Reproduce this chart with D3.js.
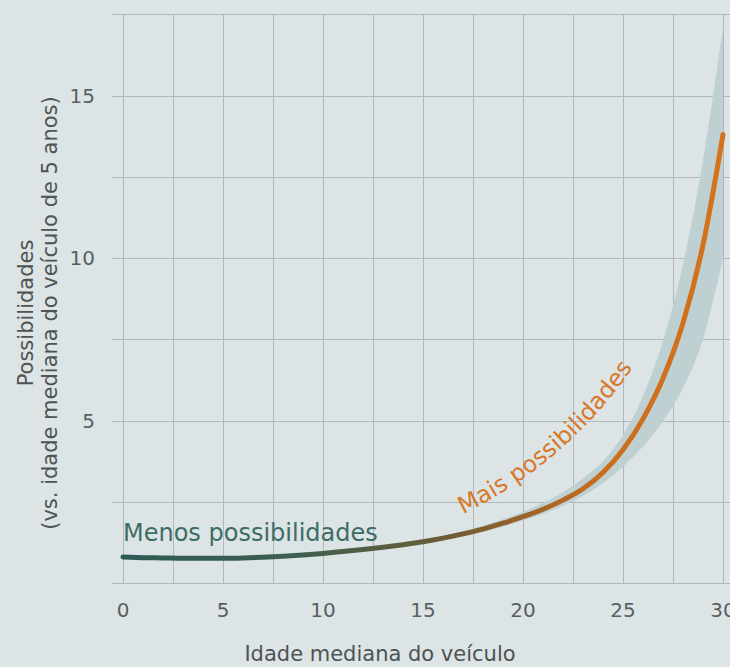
<!DOCTYPE html>
<html>
<head>
<meta charset="utf-8">
<script src="https://cdn.jsdelivr.net/npm/d3@7"></script>
<style>
  html, body { margin: 0; padding: 0; background: #dce4e5; }
  svg { display: block; font-family: "DejaVu Sans", sans-serif; }
</style>
</head>
<body>
<div id="chart"></div>
<script>
// ---- Data
const ages = [0, 1, 2, 3, 4, 5, 6, 7, 8, 9, 10, 11, 12, 13, 14, 15, 16, 17, 18, 19, 20,
              21, 22, 23, 24, 25, 26, 27, 28, 29, 30];
const odds = [0.80, 0.78, 0.77, 0.76, 0.76, 0.76, 0.77, 0.79, 0.82, 0.86, 0.91,
              0.97, 1.03, 1.10, 1.18, 1.27, 1.38, 1.51, 1.66, 1.84, 2.04,
              2.27, 2.55, 2.90, 3.40, 4.10, 5.05, 6.30, 8.00, 10.40, 13.80];
const oddsLow = [0.77, 0.76, 0.75, 0.74, 0.74, 0.74, 0.75, 0.77, 0.80, 0.84, 0.89,
                 0.94, 1.00, 1.07, 1.14, 1.22, 1.32, 1.44, 1.58, 1.74, 1.92,
                 2.13, 2.38, 2.68, 3.08, 3.58, 4.20, 4.98, 6.00, 7.50, 10.00];
const oddsHigh = [0.83, 0.81, 0.80, 0.79, 0.78, 0.78, 0.79, 0.81, 0.84, 0.88, 0.93,
                  1.00, 1.06, 1.14, 1.22, 1.32, 1.44, 1.59, 1.76, 1.96, 2.19,
                  2.46, 2.79, 3.22, 3.75, 4.55, 5.75, 7.45, 9.80, 13.00, 17.10];

const xTicks = [0, 5, 10, 15, 20, 25, 30];
const yTicks = [5, 10, 15];
const gridX = d3.range(0, 30.01, 2.5);
const gridY = d3.range(0, 17.51, 2.5);

const xTitle = 'Idade mediana do veículo';
const yTitle = ['Possibilidades', '(vs. idade mediana do veículo de 5 anos)'];
const lowLabel = 'Menos possibilidades';
const highLabel = 'Mais possibilidades';

// ---- Layout
const W = 730, H = 667;
const x = d3.scaleLinear().domain([0, 30]).range([123, 723]);
const y = d3.scaleLinear().domain([0, 17.5]).range([583, 14.25]);

const rows = ages.map((a, i) => ({ a, v: odds[i], lo: oddsLow[i], hi: oddsHigh[i] }));

const svg = d3.select('#chart').append('svg')
    .attr('width', W).attr('height', H);

svg.append('rect').attr('width', W).attr('height', H).attr('fill', '#dce4e5');

// ---- Grid
const grid = svg.append('g').attr('stroke', '#afb8ba').attr('stroke-width', 1);
grid.selectAll('.gx').data(gridX).join('line')
    .attr('x1', d => Math.round(x(d)) + 0.5).attr('x2', d => Math.round(x(d)) + 0.5)
    .attr('y1', y(17.5)).attr('y2', y(0));
grid.selectAll('.gy').data(gridY).join('line')
    .attr('x1', x(0) - 11).attr('x2', W)
    .attr('y1', d => Math.round(y(d)) + 0.5).attr('y2', d => Math.round(y(d)) + 0.5);

// ---- Confidence band
svg.append('path')
    .datum(rows)
    .attr('fill', '#bfd0d3')
    .attr('d', d3.area()
        .x(d => x(d.a)).y0(d => y(d.lo)).y1(d => y(d.hi))
        .curve(d3.curveMonotoneX));

// ---- Line with teal -> orange gradient
const defs = svg.append('defs');
const grad = defs.append('linearGradient')
    .attr('id', 'lineGrad').attr('gradientUnits', 'userSpaceOnUse')
    .attr('x1', x(0)).attr('x2', x(30)).attr('y1', 0).attr('y2', 0);
grad.selectAll('stop')
    .data([[0, '#2d5b56'], [0.3, '#3f5e4f'], [0.55, '#6e5d36'], [0.68, '#a0642a'],
           [0.8, '#c96e1e'], [1, '#d5721b']])
    .join('stop')
    .attr('offset', d => d[0]).attr('stop-color', d => d[1]);

svg.append('path')
    .datum(rows)
    .attr('fill', 'none')
    .attr('stroke', 'url(#lineGrad)')
    .attr('stroke-width', 5)
    .attr('stroke-linecap', 'round')
    .attr('d', d3.line().x(d => x(d.a)).y(d => y(d.v)).curve(d3.curveMonotoneX));

// ---- Axis labels
svg.append('g').selectAll('text').data(xTicks).join('text')
    .attr('x', d => x(d)).attr('y', 616.5)
    .attr('text-anchor', 'middle')
    .attr('font-size', 20).attr('fill', '#5a5f60')
    .text(d => d);

svg.append('g').selectAll('text').data(yTicks).join('text')
    .attr('x', 95).attr('y', d => y(d)).attr('dy', '0.36em')
    .attr('text-anchor', 'end')
    .attr('font-size', 20).attr('fill', '#5a5f60')
    .text(d => d);

svg.append('text')
    .attr('x', 380).attr('y', 661)
    .attr('text-anchor', 'middle')
    .attr('font-size', 21).attr('fill', '#4e5354')
    .text(xTitle);

svg.append('g').selectAll('text').data(yTitle).join('text')
    .attr('transform', (d, i) => `translate(${i === 0 ? 33 : 57}, 313) rotate(-90)`)
    .attr('text-anchor', 'middle')
    .attr('font-size', 21).attr('fill', '#4e5354')
    .text(d => d);

// ---- Annotations
svg.append('text')
    .attr('x', x(0)).attr('y', 541)
    .attr('font-size', 24).attr('fill', '#3d6c66')
    .text(lowLabel);

// curved label following the rising part of the curve
const p0 = [x(17.0), y(2.12)];
const R = 440, t0 = -26 * Math.PI / 180, t1 = -60 * Math.PI / 180;
const c = [p0[0] + R * Math.sin(t0), p0[1] - R * Math.cos(t0)];
const p1 = [c[0] - R * Math.sin(t1), c[1] + R * Math.cos(t1)];
defs.append('path').attr('id', 'highPath')
    .attr('d', `M${p0[0]},${p0[1]} A${R},${R} 0 0 0 ${p1[0]},${p1[1]}`);

svg.append('text')
    .attr('font-size', 23.5).attr('fill', '#d7782a')
    .append('textPath')
    .attr('href', '#highPath')
    .text(highLabel);
</script>
</body>
</html>
